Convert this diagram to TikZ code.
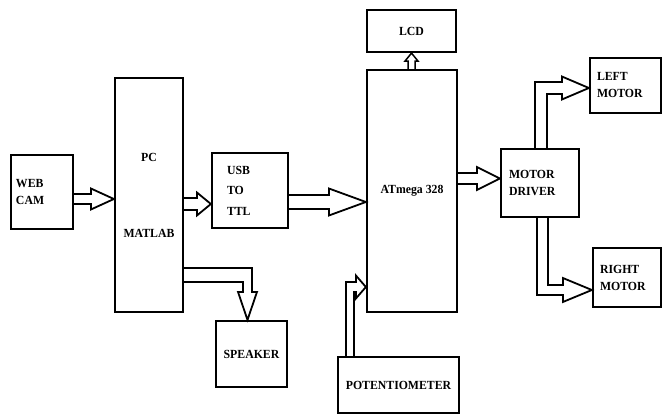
\documentclass[tikz,border=0pt]{standalone}
\usepackage{fontspec}
\setmainfont{Liberation Serif}[FakeStretch=0.95]
\usetikzlibrary{calc}

\begin{document}
\begin{tikzpicture}[
  x=1pt, y=-1pt,
  blk/.style={rectangle, draw, line width=2.2pt, inner sep=0pt, align=center,
    font=\fontsize{12.4}{17}\selectfont\bfseries},
  lblk/.style={blk, align=left, inner xsep=#1},
  arr/.style={draw, line width=1.8pt, line join=miter}
]
\useasboundingbox (0,0) rectangle (662,417);

% Blocks
\node[blk, minimum width=62, minimum height=74, lblk=5, text width=52] (webcam) at (42,192) {WEB\\CAM};
\node[blk, minimum width=68, minimum height=234] (pc) at (149,195) {PC\\[59pt]MATLAB};
\node[blk, minimum width=76, minimum height=75, lblk=15, text width=46] (usb) at (250,190.5) {USB\\[3.5pt]TO\\[3.5pt]TTL};
\node[blk, minimum width=90, minimum height=242] (atmega) at (412,191) {ATmega 328};
\node[blk, minimum width=89, minimum height=42] (lcd) at (411.5,31) {LCD};
\node[blk, minimum width=71, minimum height=66] (speaker) at (251.5,354) {SPEAKER};
\node[blk, minimum width=121, minimum height=56] (pot) at (398.5,385) {POTENTIOMETER};
\node[blk, minimum width=78, minimum height=68, lblk=8, text width=62] (driver) at (540,183) {MOTOR\\DRIVER};
\node[blk, minimum width=71, minimum height=55, lblk=7, text width=57] (leftm) at (625.5,85.5) {LEFT\\MOTOR};
\node[blk, minimum width=68, minimum height=59, lblk=7, text width=54] (rightm) at (627,277.5) {RIGHT\\MOTOR};

% Arrow tips
\coordinate (pcin) at ($(pc.west)+(0,4)$);
\coordinate (usbin) at ($(usb.west)+(0,13.5)$);
\coordinate (atin) at ($(atmega.west)+(0,11)$);
\coordinate (drvin) at ($(driver.west)+(0,-4.5)$);
\coordinate (spkin) at ($(speaker.north)+(-4,0)$);
\coordinate (potin) at ($(atmega.west)+(0,96)$);
\coordinate (lmin) at ($(leftm.west)+(0,2.5)$);
\coordinate (rmin) at ($(rightm.west)+(0,12.5)$);

% WEB CAM -> PC
\draw[arr] ($(webcam.east|-pcin)+(0,-5)$) -- ($(pcin)+(-23,-5)$) -- ($(pcin)+(-23,-10.5)$)
  -- (pcin) -- ($(pcin)+(-23,10.5)$) -- ($(pcin)+(-23,5)$) -- ($(webcam.east|-pcin)+(0,5)$);

% PC -> USB TO TTL
\draw[arr] ($(pc.east|-usbin)+(0,-6)$) -- ($(usbin)+(-14,-6)$) -- ($(usbin)+(-14,-11.5)$)
  -- (usbin) -- ($(usbin)+(-14,11.5)$) -- ($(usbin)+(-14,6)$) -- ($(pc.east|-usbin)+(0,6)$);

% USB TO TTL -> ATmega
\draw[arr] ($(usb.east|-atin)+(0,-7)$) -- ($(atin)+(-37,-7)$) -- ($(atin)+(-37,-13.5)$)
  -- (atin) -- ($(atin)+(-37,13.5)$) -- ($(atin)+(-37,7)$) -- ($(usb.east|-atin)+(0,7)$);

% ATmega -> MOTOR DRIVER
\draw[arr] ($(atmega.east|-drvin)+(0,-5.5)$) -- ($(drvin)+(-23,-5.5)$) -- ($(drvin)+(-23,-11.5)$)
  -- (drvin) -- ($(drvin)+(-23,11.5)$) -- ($(drvin)+(-23,5.5)$) -- ($(atmega.east|-drvin)+(0,5.5)$);

% ATmega -> LCD
\draw[arr, line width=1.5pt] ($(lcd.south|-atmega.north)+(-3.5,0)$) -- ($(lcd.south)+(-3.5,8)$) -- ($(lcd.south)+(-6.5,8)$)
  -- (lcd.south) -- ($(lcd.south)+(6.5,8)$) -- ($(lcd.south)+(3.5,8)$) -- ($(lcd.south|-atmega.north)+(3.5,0)$);

% PC -> SPEAKER
\draw[arr] ($(pc.east)+(0,73)$) -- ($(spkin|-pc.east)+(4.5,73)$) -- ($(spkin)+(4.5,-28)$) -- ($(spkin)+(9.5,-28)$)
  -- (spkin) -- ($(spkin)+(-9.5,-28)$) -- ($(spkin)+(-4.5,-28)$) -- ($(spkin|-pc.east)+(-4.5,87)$) -- ($(pc.east)+(0,87)$);

% POTENTIOMETER -> ATmega
\draw[arr] ($(pot.north west)+(9,0)$) -- ($(pot.north west|-potin)+(9,-5)$) -- ($(potin)+(-10,-5)$) -- ($(potin)+(-10,-11.5)$)
  -- (potin) -- ($(potin)+(-10,11.5)$) -- ($(potin)+(-10,5)$) -- ($(pot.north west|-potin)+(17,5)$) -- ($(pot.north west)+(17,0)$);

% MOTOR DRIVER -> LEFT MOTOR
\draw[arr] ($(driver.north)+(-5,0)$) -- ($(driver.north|-lmin)+(-5,-6)$) -- ($(lmin)+(-27,-6)$) -- ($(lmin)+(-27,-11.5)$)
  -- (lmin) -- ($(lmin)+(-27,11.5)$) -- ($(lmin)+(-27,6)$) -- ($(driver.north|-lmin)+(7,6)$) -- ($(driver.north)+(7,0)$);

% MOTOR DRIVER -> RIGHT MOTOR
\draw[arr] ($(driver.south)+(8,0)$) -- ($(driver.south|-rmin)+(8,-5)$) -- ($(rmin)+(-29,-5)$) -- ($(rmin)+(-29,-12)$)
  -- (rmin) -- ($(rmin)+(-29,12)$) -- ($(rmin)+(-29,5)$) -- ($(driver.south|-rmin)+(-3,5)$) -- ($(driver.south)+(-3,0)$);

\end{tikzpicture}
\end{document}
